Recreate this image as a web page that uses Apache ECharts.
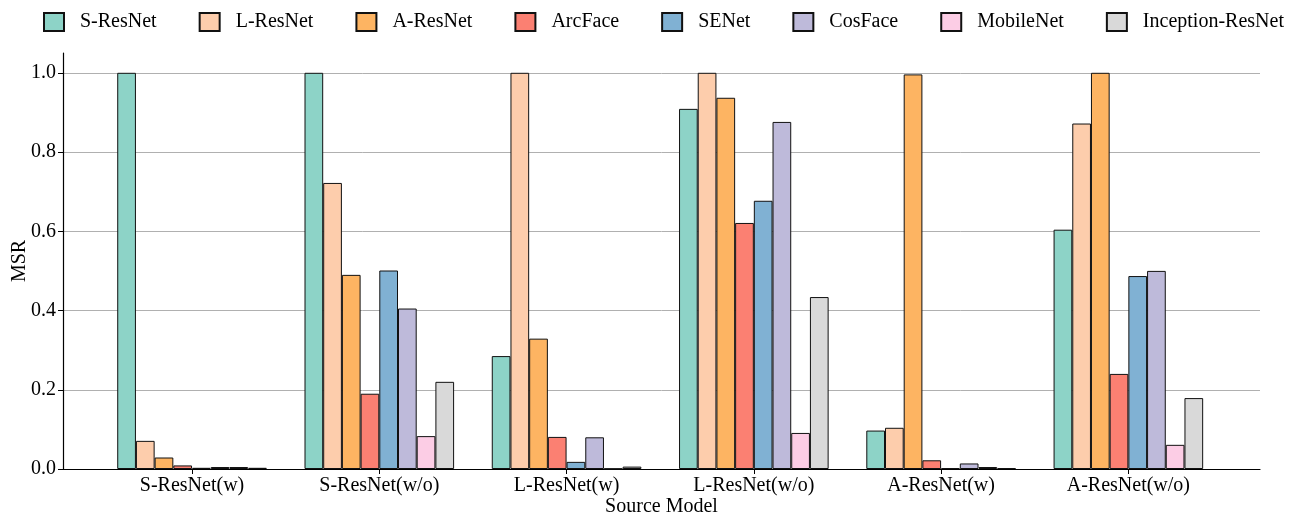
<!DOCTYPE html>
<html>
<head>
<meta charset="utf-8">
<script src="https://cdn.jsdelivr.net/npm/echarts@6/dist/echarts.min.js"></script>
<style>
  html, body { margin: 0; padding: 0; background: #fff; }
  #chart { width: 1289px; height: 517px; }
</style>
</head>
<body>
<div id="chart"></div>
<script>
// source models on the x axis
var sourceModels = ['S-ResNet(w)', 'S-ResNet(w/o)', 'L-ResNet(w)', 'L-ResNet(w/o)', 'A-ResNet(w)', 'A-ResNet(w/o)']

// target models (one series each)
var targetNames = ['S-ResNet', 'L-ResNet', 'A-ResNet', 'ArcFace', 'SENet', 'CosFace', 'MobileNet', 'Inception-ResNet']
var targetColors = ['#8dd3c7', '#fdcdac', '#fdb462', '#fb8072', '#80b1d3', '#bebada', '#fccde5', '#d9d9d9']

var sResNet    = [1.0,   1.0,   0.285, 0.909, 0.097, 0.604]
var lResNet    = [0.071, 0.722, 1.0,   1.0,   0.104, 0.872]
var aResNet    = [0.029, 0.490, 0.329, 0.937, 0.996, 1.0]
var arcFace    = [0.009, 0.190, 0.081, 0.621, 0.022, 0.240]
var seNet      = [0.003, 0.501, 0.018, 0.677, 0.002, 0.487]
var cosFace    = [0.005, 0.405, 0.080, 0.876, 0.014, 0.500]
var mobileNet  = [0.005, 0.083, 0.001, 0.091, 0.005, 0.061]
var inception  = [0.003, 0.220, 0.006, 0.434, 0.002, 0.179]

var yTicks = [0, 0.2, 0.4, 0.6, 0.8, 1.0]

var allValues = [sResNet, lResNet, aResNet, arcFace, seNet, cosFace, mobileNet, inception]
var font = "'Liberation Serif', 'Times New Roman', serif"

var chart = echarts.init(document.getElementById('chart'))

var seriesList = targetNames.map(function (name, i) {
  return {
    name: name,
    type: 'bar',
    xAxisIndex: 1,
    yAxisIndex: 1,
    data: allValues[i],
    barWidth: 18.7,
    barGap: '0%',
    itemStyle: { color: targetColors[i], borderColor: '#111', borderWidth: 1 },
    emphasis: { disabled: true }
  }
})

var option = {
  animation: false,
  backgroundColor: '#fff',
  textStyle: { fontFamily: font },
  legend: {
    data: targetNames,
    left: 43,
    top: 12,
    padding: 0,
    icon: 'rect',
    itemWidth: 20,
    itemHeight: 18,
    itemGap: 42,
    textStyle: { fontFamily: font, fontSize: 20, color: '#000', padding: [0, 0, 0, 11] }
  },
  grid: [
    { left: 63, right: 29, top: 53, bottom: 48, outerBoundsMode: 'none' },
    { left: 98.4, right: 67, top: 53, bottom: 48, outerBoundsMode: 'none' }
  ],
  xAxis: [
    {
      type: 'value',
      gridIndex: 0,
      min: 0,
      max: 1,
      name: 'Source Model',
      nameLocation: 'middle',
      nameGap: 28,
      nameMoveOverlap: false,
      nameTextStyle: { fontFamily: font, fontSize: 20, color: '#000' },
      axisLine: { show: true, lineStyle: { color: '#000', width: 1.2 } },
      axisTick: { show: false },
      axisLabel: { show: false },
      splitLine: { show: false }
    },
    {
      type: 'category',
      gridIndex: 1,
      data: sourceModels,
      axisLine: { show: false },
      axisTick: { show: true, alignWithLabel: true, length: 5, lineStyle: { color: '#000' } },
      axisLabel: { fontFamily: font, fontSize: 20, color: '#000', margin: 7 },
      splitLine: { show: false }
    }
  ],
  yAxis: [
    {
      type: 'value',
      gridIndex: 0,
      min: 0,
      max: 1.05,
      interval: 0.2,
      name: 'MSR',
      nameLocation: 'middle',
      nameGap: 33,
      nameMoveOverlap: false,
      nameTextStyle: { fontFamily: font, fontSize: 20, color: '#000' },
      axisLine: { show: true, lineStyle: { color: '#000', width: 1.2 } },
      axisTick: { show: true, length: 5, customValues: yTicks, lineStyle: { color: '#000' } },
      axisLabel: {
        fontFamily: font, fontSize: 20, color: '#000', margin: 7,
        customValues: yTicks,
        formatter: function (v) { return v.toFixed(1) }
      },
      splitLine: { show: true, showMinLine: false, lineStyle: { color: '#b0b0b0', width: 1 } }
    },
    {
      type: 'value',
      gridIndex: 1,
      min: 0,
      max: 1.05,
      show: false,
      splitLine: { show: false }
    }
  ],
  series: seriesList
}

chart.setOption(option)
</script>
</body>
</html>
